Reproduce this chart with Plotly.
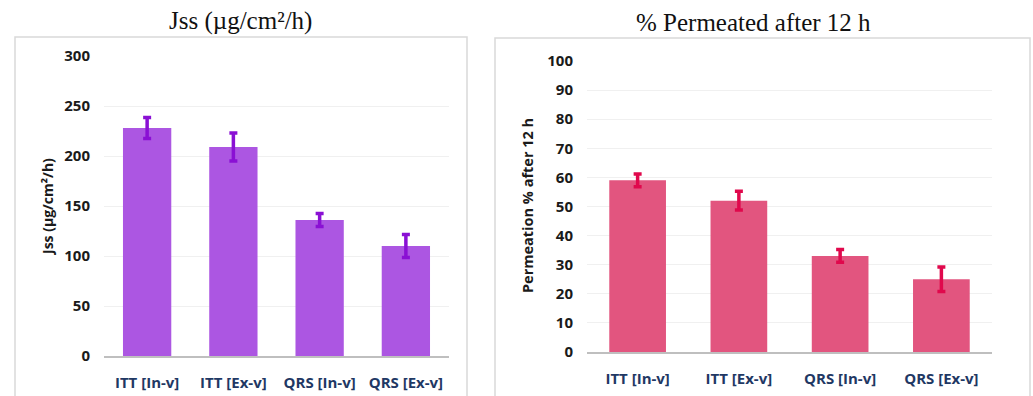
import plotly.graph_objects as go

categories = ["ITT [In-v]", "ITT [Ex-v]", "QRS [In-v]", "QRS [Ex-v]"]
jss_values = [228, 209, 136, 110]
jss_errors = [10.5, 14, 6.5, 11.5]
perm_values = [59, 52, 33, 25]
perm_errors = [2.2, 3.2, 2.2, 4.2]
jss_ticks = [0, 50, 100, 150, 200, 250, 300]
perm_ticks = [0, 10, 20, 30, 40, 50, 60, 70, 80, 90, 100]

W, H = 1033, 396
fig = go.Figure()

fig.add_trace(go.Bar(
    x=categories, y=jss_values, xaxis="x", yaxis="y",
    marker=dict(color="#AC56E2", line=dict(width=0)),
    error_y=dict(type="data", array=jss_errors, visible=True,
                 color="#8A10D4", thickness=3.5, width=4),
    showlegend=False,
))
fig.add_trace(go.Bar(
    x=categories, y=perm_values, xaxis="x2", yaxis="y2",
    marker=dict(color="#E2557F", line=dict(width=0)),
    error_y=dict(type="data", array=perm_errors, visible=True,
                 color="#E0084C", thickness=3.5, width=4),
    showlegend=False,
))

tickfont_y = dict(family="Open Sans", size=15, color="#1a1a1a", weight="bold")
tickfont_x = dict(family="Open Sans", size=15, color="#1F3864", weight="bold")

common_y = dict(showgrid=True, gridcolor="#F0F0F0", gridwidth=1, zeroline=False,
                showline=False, ticks="", tickfont=tickfont_y, ticklabelstandoff=13,
                automargin=False)
common_x = dict(showline=True, linecolor="#BFBFBF", linewidth=1.5, ticks="",
                tickfont=tickfont_x, ticklabelstandoff=12, showgrid=False,
                automargin=False)

fig.update_layout(
    width=W, height=H,
    margin=dict(l=0, r=0, t=0, b=0, autoexpand=False),
    paper_bgcolor="white", plot_bgcolor="white",
    bargap=0.44,
    xaxis=dict(domain=[104 / W, 449 / W], anchor="y", **common_x),
    yaxis=dict(domain=[(H - 356) / H, (H - 56) / H], anchor="x", range=[0, 300],
               tickvals=jss_ticks, **common_y),
    xaxis2=dict(domain=[587 / W, 992 / W], anchor="y2", **common_x),
    yaxis2=dict(domain=[(H - 352) / H, (H - 61) / H], anchor="x2", range=[0, 100],
                tickvals=perm_ticks, **common_y),
    font=dict(family="Open Sans"),
)

# panel borders
fig.add_shape(type="rect", xref="paper", yref="paper",
              x0=15 / W, x1=467 / W, y0=-0.05, y1=(H - 37) / H,
              line=dict(color="#D9D9D9", width=1.5), fillcolor="rgba(0,0,0,0)", layer="below")
fig.add_shape(type="rect", xref="paper", yref="paper",
              x0=495 / W, x1=1030 / W, y0=-0.05, y1=(H - 38) / H,
              line=dict(color="#D9D9D9", width=1.5), fillcolor="rgba(0,0,0,0)", layer="below")

title_font = dict(family="Liberation Serif", size=25, color="#111111")
fig.add_annotation(text="Jss (µg/cm²/h)", xref="paper", yref="paper",
                   x=240 / W, y=(H - 21) / H, showarrow=False, font=title_font,
                   xanchor="center", yanchor="middle")
fig.add_annotation(text="% Permeated after 12 h", xref="paper", yref="paper",
                   x=753 / W, y=(H - 22) / H, showarrow=False, font=title_font,
                   xanchor="center", yanchor="middle")

ytitle_font = dict(family="Open Sans", size=14, color="#1a1a1a", weight="bold")
fig.add_annotation(text="Jss (µg/cm²/h)", xref="paper", yref="paper",
                   x=47 / W, y=(H - 207) / H, showarrow=False, textangle=-90,
                   font=ytitle_font, xanchor="center", yanchor="middle")
fig.add_annotation(text="Permeation % after 12 h", xref="paper", yref="paper",
                   x=527 / W, y=(H - 206) / H, showarrow=False, textangle=-90,
                   font=dict(family="Open Sans", size=14.5, color="#1a1a1a", weight="bold"),
                   xanchor="center", yanchor="middle")

fig.write_html("out.html", config={"displayModeBar": False},
               post_script="document.body.style.margin='0';document.body.style.overflow='hidden';")
